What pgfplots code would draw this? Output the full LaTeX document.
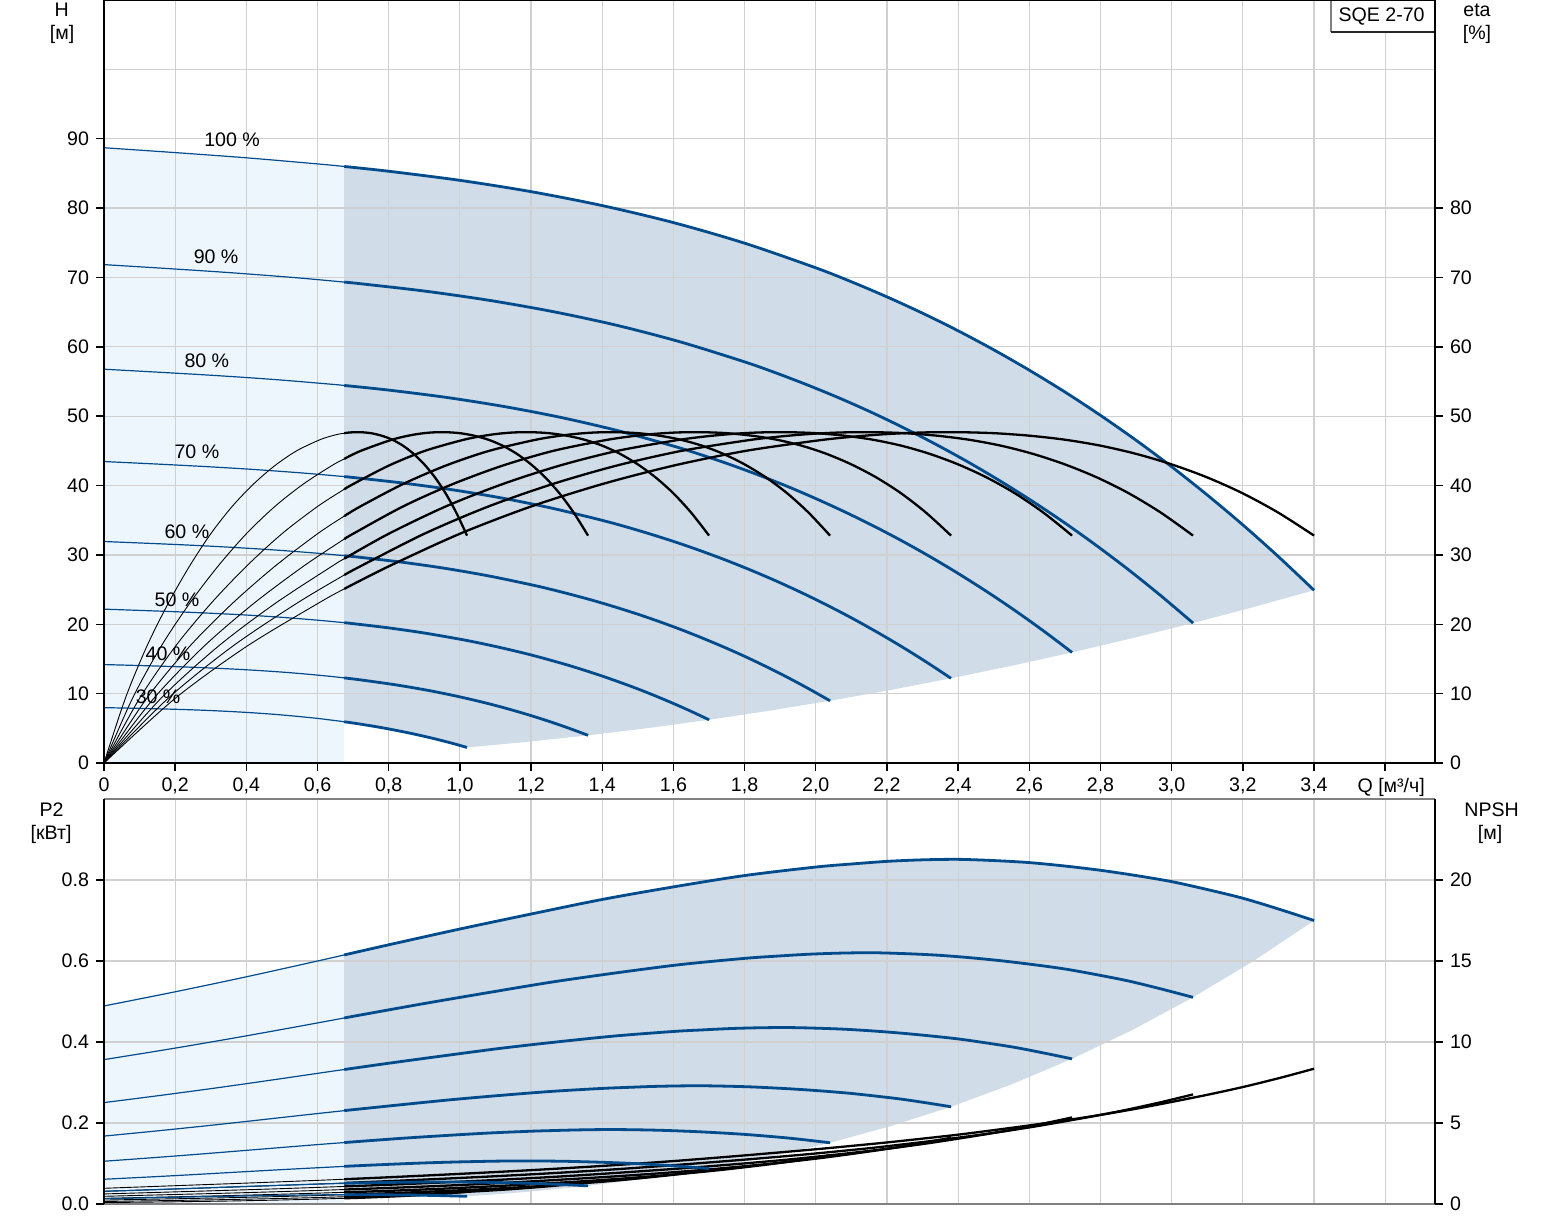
\documentclass[border=0pt]{standalone}
\usepackage{pgfplots}
\pgfplotsset{compat=1.18}
\usepackage{pgfplotstable}
\usepackage{fontspec}
\setmainfont{Liberation Sans}
\definecolor{bl}{RGB}{0,75,140}
\definecolor{lightfill}{RGB}{238,246,253}
\definecolor{darkfill}{RGB}{208,220,231}
\definecolor{gridc}{RGB}{208,208,208}
\newcommand\fsz{\fontsize{9.8}{11.5}\selectfont}

% columns: Q [m3/h], H [m], E = eta [%], P = P2 [kW], N = NPSH [m]
\pgfplotstableread{
Q H E P N
0 88.70 0 0.489 0.97
0.2 88.00 9.32 0.524 1.13
0.4 87.25 16.78 0.561 1.29
0.6 86.37 22.97 0.600 1.46
0.675 86.00 25.10 0.615 1.53
0.8 85.31 28.35 0.640 1.65
1.0 84.00 33.05 0.679 1.86
1.2 82.37 36.98 0.716 2.09
1.4 80.36 40.21 0.752 2.35
1.6 77.91 42.87 0.783 2.65
1.8 74.94 44.97 0.811 3.00
2.0 71.39 46.46 0.832 3.38
2.1 69.38 47.02 0.8395 3.585
2.2 67.20 47.42 0.846 3.80
2.3 64.85 47.65 0.8498 4.035
2.4 62.31 47.69 0.851 4.28
2.5 59.57 47.55 0.848 4.56
2.6 56.63 47.19 0.843 4.85
2.7 53.49 46.61 0.8345 5.16
2.8 50.12 45.75 0.824 5.50
2.9 46.53 44.57 0.811 5.88
3.0 42.71 43.05 0.796 6.30
3.1 38.64 41.17 0.7765 6.74
3.2 34.33 38.87 0.755 7.22
3.3 29.75 36.08 0.7285 7.76
3.4 24.91 32.79 0.700 8.35
}\TblA
\pgfplotstableread{
Q H E P N
0 71.85 0 0.3565 0.786
0.18 71.28 9.32 0.3820 0.915
0.36 70.67 16.78 0.4090 1.045
0.54 69.96 22.97 0.4374 1.183
0.675 69.33 27.10 0.4593 1.297
0.72 69.10 28.35 0.4666 1.337
0.9 68.04 33.05 0.4950 1.507
1.08 66.72 36.98 0.5220 1.693
1.26 65.09 40.21 0.5482 1.904
1.44 63.11 42.87 0.5708 2.147
1.62 60.70 44.97 0.5912 2.430
1.8 57.83 46.46 0.6065 2.738
1.89 56.20 47.02 0.6120 2.904
1.98 54.43 47.42 0.6167 3.078
2.07 52.53 47.65 0.6195 3.268
2.16 50.47 47.69 0.6204 3.467
2.25 48.25 47.55 0.6182 3.694
2.34 45.87 47.19 0.6145 3.929
2.43 43.33 46.61 0.6084 4.180
2.52 40.60 45.75 0.6007 4.455
2.61 37.69 44.57 0.5912 4.763
2.7 34.60 43.05 0.5803 5.103
2.79 31.30 41.17 0.5661 5.459
2.88 27.81 38.87 0.5504 5.848
2.97 24.10 36.08 0.5311 6.286
3.06 20.18 32.79 0.5103 6.764
}\TblB
\pgfplotstableread{
Q H E P N
0 56.77 0 0.2504 0.621
0.16 56.32 9.32 0.2683 0.723
0.32 55.84 16.78 0.2872 0.826
0.48 55.28 22.97 0.3072 0.934
0.64 54.60 28.35 0.3277 1.056
0.675 54.43 29.45 0.3320 1.085
0.8 53.76 33.05 0.3476 1.190
0.96 52.72 36.98 0.3666 1.338
1.12 51.43 40.21 0.3850 1.504
1.28 49.86 42.87 0.4009 1.696
1.44 47.96 44.97 0.4152 1.920
1.6 45.69 46.46 0.4260 2.163
1.68 44.40 47.02 0.4298 2.294
1.76 43.01 47.42 0.4332 2.432
1.84 41.50 47.65 0.4351 2.582
1.92 39.88 47.69 0.4357 2.739
2.0 38.12 47.55 0.4342 2.918
2.08 36.24 47.19 0.4316 3.104
2.16 34.23 46.61 0.4273 3.302
2.24 32.08 45.75 0.4219 3.520
2.32 29.78 44.57 0.4152 3.763
2.4 27.33 43.05 0.4076 4.032
2.48 24.73 41.17 0.3976 4.314
2.56 21.97 38.87 0.3866 4.621
2.64 19.04 36.08 0.3730 4.966
2.72 15.94 32.79 0.3584 5.344
}\TblC
\pgfplotstableread{
Q H E P N
0 43.46 0 0.1677 0.475
0.14 43.12 9.32 0.1797 0.554
0.28 42.75 16.78 0.1924 0.632
0.42 42.32 22.97 0.2058 0.715
0.56 41.80 28.35 0.2195 0.809
0.675 41.29 32.28 0.2305 0.893
0.7 41.16 33.05 0.2329 0.911
0.84 40.36 36.98 0.2456 1.024
0.98 39.38 40.21 0.2579 1.152
1.12 38.18 42.87 0.2686 1.299
1.26 36.72 44.97 0.2782 1.470
1.4 34.98 46.46 0.2854 1.656
1.47 34.00 47.02 0.2879 1.757
1.54 32.93 47.42 0.2902 1.862
1.61 31.78 47.65 0.2915 1.977
1.68 30.53 47.69 0.2919 2.097
1.75 29.19 47.55 0.2909 2.234
1.82 27.75 47.19 0.2891 2.377
1.89 26.21 46.61 0.2862 2.528
1.96 24.56 45.75 0.2826 2.695
2.03 22.80 44.57 0.2782 2.881
2.1 20.93 43.05 0.2730 3.087
2.17 18.93 41.17 0.2663 3.303
2.24 16.82 38.87 0.2590 3.538
2.31 14.58 36.08 0.2499 3.802
2.38 12.21 32.79 0.2401 4.092
}\TblD
\pgfplotstableread{
Q H E P N
0 31.93 0 0.1056 0.349
0.12 31.68 9.32 0.1132 0.407
0.24 31.41 16.78 0.1212 0.464
0.36 31.09 22.97 0.1296 0.526
0.48 30.71 28.35 0.1382 0.594
0.6 30.24 33.05 0.1467 0.670
0.675 29.89 35.59 0.1517 0.721
0.72 29.65 36.98 0.1547 0.752
0.84 28.93 40.21 0.1624 0.846
0.96 28.05 42.87 0.1691 0.954
1.08 26.98 44.97 0.1752 1.080
1.2 25.70 46.46 0.1797 1.217
1.26 24.98 47.02 0.1813 1.291
1.32 24.19 47.42 0.1827 1.368
1.38 23.35 47.65 0.1836 1.453
1.44 22.43 47.69 0.1838 1.541
1.5 21.45 47.55 0.1832 1.642
1.56 20.39 47.19 0.1821 1.746
1.62 19.26 46.61 0.1803 1.858
1.68 18.04 45.75 0.1780 1.980
1.74 16.75 44.57 0.1752 2.117
1.8 15.38 43.05 0.1719 2.268
1.86 13.91 41.17 0.1677 2.426
1.92 12.36 38.87 0.1631 2.599
1.98 10.71 36.08 0.1574 2.794
2.04 8.97 32.79 0.1512 3.006
}\TblE
\pgfplotstableread{
Q H E P N
0 22.18 0 0.0611 0.243
0.1 22.00 9.32 0.0655 0.283
0.2 21.81 16.78 0.0701 0.323
0.3 21.59 22.97 0.0750 0.365
0.4 21.33 28.35 0.0800 0.413
0.5 21.00 33.05 0.0849 0.465
0.6 20.59 36.98 0.0895 0.523
0.675 20.23 39.46 0.0929 0.571
0.7 20.09 40.21 0.0940 0.588
0.8 19.48 42.87 0.0979 0.663
0.9 18.74 44.97 0.1014 0.750
1.0 17.85 46.46 0.1040 0.845
1.05 17.35 47.02 0.1049 0.896
1.1 16.80 47.42 0.1058 0.950
1.15 16.21 47.65 0.1062 1.009
1.2 15.58 47.69 0.1064 1.070
1.25 14.89 47.55 0.1060 1.140
1.3 14.16 47.19 0.1054 1.213
1.35 13.37 46.61 0.1043 1.290
1.4 12.53 45.75 0.1030 1.375
1.45 11.63 44.57 0.1014 1.470
1.5 10.68 43.05 0.0995 1.575
1.55 9.66 41.17 0.0971 1.685
1.6 8.58 38.87 0.0944 1.805
1.65 7.44 36.08 0.0911 1.940
1.7 6.23 32.79 0.0875 2.088
}\TblF
\pgfplotstableread{
Q H E P N
0 14.19 0 0.0313 0.155
0.08 14.08 9.32 0.0335 0.181
0.16 13.96 16.78 0.0359 0.206
0.24 13.82 22.97 0.0384 0.234
0.32 13.65 28.35 0.0410 0.264
0.4 13.44 33.05 0.0435 0.298
0.48 13.18 36.98 0.0458 0.334
0.56 12.86 40.21 0.0481 0.376
0.64 12.47 42.87 0.0501 0.424
0.675 12.27 43.84 0.0509 0.449
0.72 11.99 44.97 0.0519 0.480
0.8 11.42 46.46 0.0532 0.541
0.84 11.10 47.02 0.0537 0.574
0.88 10.75 47.42 0.0541 0.608
0.92 10.38 47.65 0.0544 0.646
0.96 9.97 47.69 0.0545 0.685
1.0 9.53 47.55 0.0543 0.730
1.04 9.06 47.19 0.0540 0.776
1.08 8.56 46.61 0.0534 0.826
1.12 8.02 45.75 0.0527 0.880
1.16 7.44 44.57 0.0519 0.941
1.2 6.83 43.05 0.0509 1.008
1.24 6.18 41.17 0.0497 1.078
1.28 5.49 38.87 0.0483 1.155
1.32 4.76 36.08 0.0466 1.242
1.36 3.99 32.79 0.0448 1.336
}\TblG
\pgfplotstableread{
Q H E P N
0 7.98 0 0.0132 0.087
0.06 7.92 9.32 0.0141 0.102
0.12 7.85 16.78 0.0151 0.116
0.18 7.77 22.97 0.0162 0.131
0.24 7.68 28.35 0.0173 0.149
0.3 7.56 33.05 0.0183 0.167
0.36 7.41 36.98 0.0193 0.188
0.42 7.23 40.21 0.0203 0.212
0.48 7.01 42.87 0.0211 0.239
0.54 6.74 44.97 0.0219 0.270
0.6 6.43 46.46 0.0225 0.304
0.63 6.24 47.02 0.0227 0.323
0.66 6.05 47.42 0.0228 0.342
0.675 5.94 47.54 0.0229 0.353
0.69 5.84 47.65 0.0229 0.363
0.72 5.61 47.69 0.0230 0.385
0.75 5.36 47.55 0.0229 0.410
0.78 5.10 47.19 0.0228 0.437
0.81 4.81 46.61 0.0225 0.464
0.84 4.51 45.75 0.0222 0.495
0.87 4.19 44.57 0.0219 0.529
0.9 3.84 43.05 0.0215 0.567
0.93 3.48 41.17 0.0210 0.607
0.96 3.09 38.87 0.0204 0.650
0.99 2.68 36.08 0.0197 0.698
1.02 2.24 32.79 0.0189 0.752
}\TblH

\newcommand\hcurve[1]{%
  \addplot[bl, line width=0.6pt, smooth] table[x=Q,y=H]{#1};
  \addplot[bl, line width=1.4pt, smooth, restrict x to domain=0.6749:4] table[x=Q,y=H]{#1};}
\newcommand\ecurve[1]{%
  \addplot[black, line width=0.45pt, smooth] table[x=Q,y=E]{#1};
  \addplot[black, line width=1.15pt, smooth, restrict x to domain=0.6749:4] table[x=Q,y=E]{#1};}
\newcommand\pcurve[1]{%
  \addplot[bl, line width=0.6pt, smooth] table[x=Q,y=P]{#1};
  \addplot[bl, line width=1.4pt, smooth, restrict x to domain=0.6749:4] table[x=Q,y=P]{#1};}
\newcommand\ncurve[1]{%
  \addplot[black, line width=0.45pt, smooth] table[x=Q,y=N]{#1};
  \addplot[black, line width=1.15pt, smooth, restrict x to domain=0.6749:4] table[x=Q,y=N]{#1};}

\pgfplotsset{
  base/.style={scale only axis, width=665.5pt, anchor=south west, xmin=0, xmax=3.74,
    axis line style={draw=none}, tick align=outside, major tick length=4pt,
    tick style={black, line width=0.7pt},
    every tick label/.append style={font=\fsz}},
  topax/.style={base, height=381.5pt, at={(52pt,229.5pt)}, ymin=0, ymax=110},
  botax/.style={base, height=202.5pt, at={(52pt,9pt)}},
  gridx/.style={xtick={0,0.2,0.4,0.6,0.8,1,1.2,1.4,1.6,1.8,2,2.2,2.4,2.6,2.8,3,3.2,3.4,3.6}},
}

\begin{document}
\begin{tikzpicture}
\useasboundingbox (0,0) rectangle (774pt,611pt);

% ---------- top: fills ----------
\begin{axis}[topax, hide axis]
\addplot[fill=lightfill, draw=none] coordinates {(0,0) (0,88.70) (0.2,88.00) (0.4,87.25) (0.6,86.37) (0.675,86.00) (0.675,0)} -- cycle;
\addplot[fill=darkfill, draw=none] coordinates {(0.675,86.00) (0.8,85.31) (1.0,84.00) (1.2,82.37) (1.4,80.36) (1.6,77.91) (1.8,74.94) (2.0,71.39) (2.1,69.38) (2.2,67.20) (2.3,64.85) (2.4,62.31) (2.5,59.57) (2.6,56.63) (2.7,53.49) (2.8,50.12) (2.9,46.53) (3.0,42.71) (3.1,38.64) (3.2,34.33) (3.3,29.75) (3.4,24.91) (3.23,22.48) (3.06,20.18) (2.89,18.00) (2.72,15.94) (2.55,14.01) (2.38,12.21) (2.21,10.52) (2.04,8.97) (1.87,7.54) (1.70,6.23) (1.53,5.04) (1.36,3.99) (1.19,3.05) (1.02,2.24) (0.99,2.68) (0.96,3.09) (0.93,3.48) (0.9,3.84) (0.87,4.19) (0.84,4.51) (0.81,4.81) (0.78,5.10) (0.75,5.36) (0.72,5.61) (0.675,5.94)} -- cycle;
\end{axis}

% ---------- top: grid, H and eta ----------
\begin{axis}[topax, gridx,
  xticklabels={0,{0,2},{0,4},{0,6},{0,8},{1,0},{1,2},{1,4},{1,6},{1,8},{2,0},{2,2},{2,4},{2,6},{2,8},{3,0},{3,2},{3,4},{\hspace*{6pt}Q [м³/ч]}},
  xtick pos=bottom, ytick pos=left,
  ytick={0,10,20,30,40,50,60,70,80,90}, yticklabels={0,10,20,30,40,50,60,70,80,90},
  extra y ticks={100}, extra y tick labels={}, extra y tick style={grid=major, major tick length=0pt},
  grid=major, major grid style={gridc, line width=0.6pt}]
\hcurve{\TblA}\hcurve{\TblB}\hcurve{\TblC}\hcurve{\TblD}
\hcurve{\TblE}\hcurve{\TblF}\hcurve{\TblG}\hcurve{\TblH}
\ecurve{\TblA}\ecurve{\TblB}\ecurve{\TblC}\ecurve{\TblD}
\ecurve{\TblE}\ecurve{\TblF}\ecurve{\TblG}\ecurve{\TblH}
\node[font=\fsz] at (axis cs:0.36,89.9) {100 \%};
\node[font=\fsz] at (axis cs:0.315,73.0) {90 \%};
\node[font=\fsz] at (axis cs:0.289,58.0) {80 \%};
\node[font=\fsz] at (axis cs:0.261,44.8) {70 \%};
\node[font=\fsz] at (axis cs:0.233,33.4) {60 \%};
\node[font=\fsz] at (axis cs:0.205,23.6) {50 \%};
\node[font=\fsz] at (axis cs:0.180,15.7) {40 \%};
\node[font=\fsz] at (axis cs:0.152,9.6) {30 \%};
\end{axis}

% ---------- top: eta axis (right) ----------
\begin{axis}[topax, xtick=\empty, ytick pos=right,
  ytick={0,10,20,30,40,50,60,70,80}, yticklabels={0,10,20,30,40,50,60,70,80}]
\addplot[draw=none] coordinates {(0,0)};
\end{axis}

% ---------- bottom: fills ----------
\begin{axis}[botax, hide axis, ymin=0, ymax=1]
\addplot[fill=lightfill, draw=none] coordinates {(0,0) (0,0.489) (0.2,0.524) (0.4,0.561) (0.6,0.600) (0.675,0.615) (0.675,0)} -- cycle;
\addplot[fill=darkfill, draw=none] coordinates {(0.675,0.615) (0.8,0.640) (1.0,0.679) (1.2,0.716) (1.4,0.752) (1.6,0.783) (1.8,0.811) (2.0,0.832) (2.1,0.8395) (2.2,0.846) (2.3,0.8498) (2.4,0.851) (2.5,0.848) (2.6,0.843) (2.7,0.8345) (2.8,0.824) (2.9,0.811) (3.0,0.796) (3.1,0.7765) (3.2,0.755) (3.3,0.7285) (3.4,0.700) (3.23,0.600) (3.06,0.5103) (2.89,0.4299) (2.72,0.3584) (2.55,0.2953) (2.38,0.2401) (2.21,0.1922) (2.04,0.1512) (1.87,0.1165) (1.70,0.0875) (1.53,0.0638) (1.36,0.0448) (1.19,0.0300) (1.02,0.0189) (0.96,0.0204) (0.9,0.0215) (0.84,0.0222) (0.78,0.0228) (0.72,0.0230) (0.675,0.0229)} -- cycle;
\end{axis}

% ---------- bottom: grid + NPSH (right) ----------
\begin{axis}[botax, ymin=0, ymax=25, gridx, xticklabels={}, xtick style={draw=none},
  ytick pos=right, ytick={0,5,10,15,20}, yticklabels={0,5,10,15,20},
  extra y ticks={25}, extra y tick labels={}, extra y tick style={grid=major, major tick length=0pt},
  grid=major, major grid style={gridc, line width=0.6pt}]
\ncurve{\TblA}\ncurve{\TblB}\ncurve{\TblC}\ncurve{\TblD}
\ncurve{\TblE}\ncurve{\TblF}\ncurve{\TblG}\ncurve{\TblH}
\end{axis}

% ---------- bottom: P2 (left) ----------
\begin{axis}[botax, ymin=0, ymax=1, xtick=\empty, ytick pos=left,
  ytick={0,0.2,0.4,0.6,0.8}, yticklabels={0.0,0.2,0.4,0.6,0.8}]
\pcurve{\TblA}\pcurve{\TblB}\pcurve{\TblC}\pcurve{\TblD}
\pcurve{\TblE}\pcurve{\TblF}\pcurve{\TblG}\pcurve{\TblH}
\end{axis}

% ---------- model box ----------
\fill[white] (665.5pt,595pt) rectangle (717.5pt,611pt);
\draw[gray, line width=0.6pt] (665.5pt,611pt) -- (665.5pt,595pt);
\draw[black!85, line width=0.6pt] (665.5pt,595pt) -- (717.5pt,595pt);
\node[font=\fsz, anchor=base] at (690.8pt,600pt) {SQE 2-70};

% ---------- frames ----------
\draw[black, line width=1pt] (52pt,229.5pt) rectangle (717.5pt,611pt);
\draw[black!50, line width=1pt] (52pt,9pt) -- (717.5pt,9pt);
\draw[black!50, line width=1pt] (52pt,211.5pt) -- (717.5pt,211.5pt);
\draw[black, line width=1pt] (52pt,9pt) -- (52pt,211.5pt);
\draw[black, line width=1pt] (717.5pt,9pt) -- (717.5pt,211.5pt);

% ---------- axis titles ----------
\node[font=\fsz, anchor=base] at (30.9pt,602.5pt) {H};
\node[font=\fsz, anchor=base] at (31pt,591pt) {[м]};
\node[font=\fsz, anchor=base] at (738.5pt,602.5pt) {eta};
\node[font=\fsz, anchor=base] at (738.5pt,591pt) {[\%]};
\node[font=\fsz, anchor=base] at (25.8pt,202.7pt) {P2};
\node[font=\fsz, anchor=base] at (25.5pt,191pt) {[кВт]};
\node[font=\fsz, anchor=base] at (745.8pt,202.7pt) {NPSH};
\node[font=\fsz, anchor=base] at (745pt,191pt) {[м]};
\end{tikzpicture}
\end{document}
